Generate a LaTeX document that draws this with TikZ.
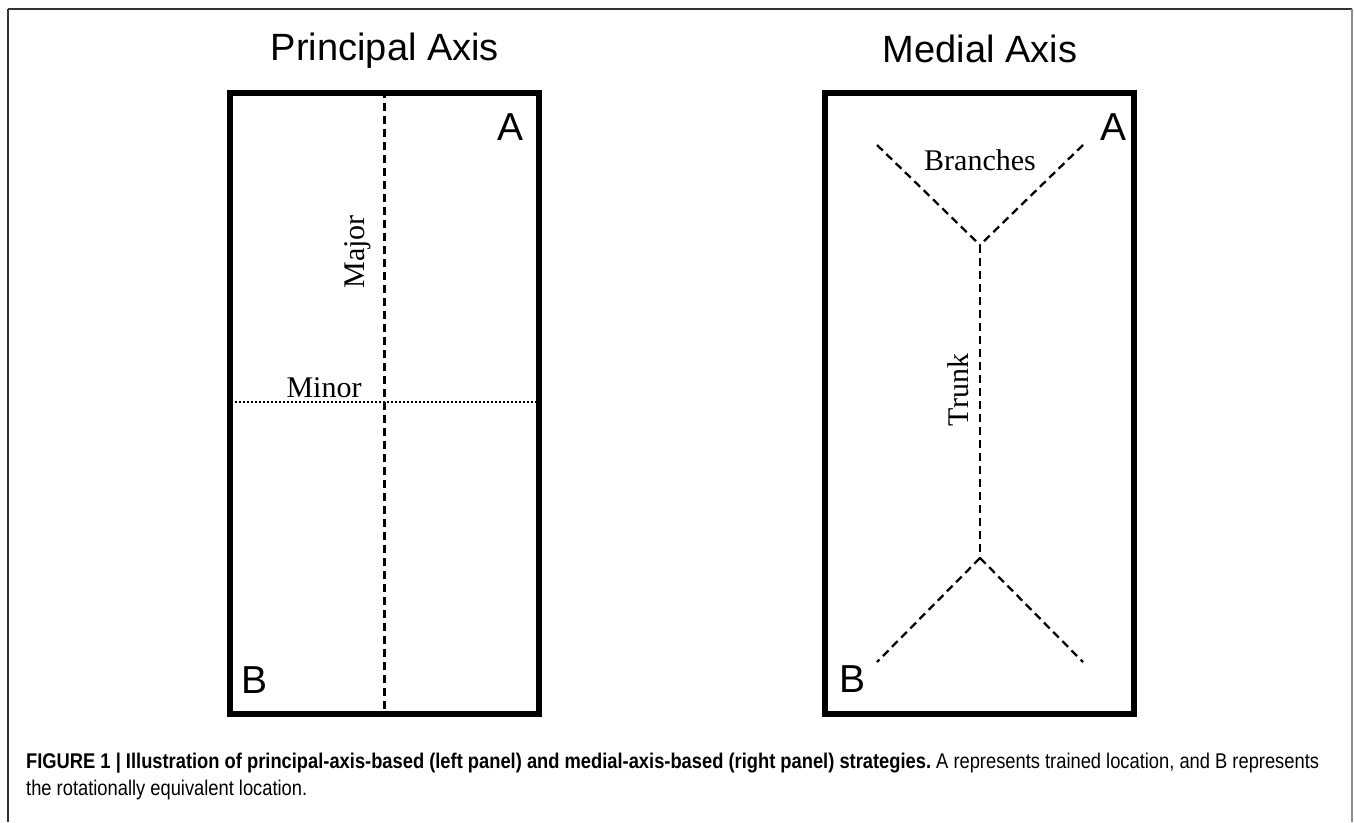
\documentclass[tikz,border=0pt]{standalone}
\usepackage{fontspec}
\setmainfont{Liberation Serif}
\newfontfamily\hv{Liberation Sans}
\newfontfamily\capfont[FakeStretch=0.86]{Liberation Sans}
\begin{document}
\begin{tikzpicture}[x=1pt,y=-1pt,
  panel/.style={draw, line width=6pt, minimum width=309pt, minimum height=621pt, inner sep=0pt},
  axdash/.style={line width=2.3pt, dash pattern=on 8pt off 5pt},
  axdot/.style={line width=2.2pt, dash pattern=on 2pt off 2pt},
  ttl/.style={font=\hv\fontsize{38}{40}\selectfont},
  corner/.style={font=\hv\fontsize{39}{41}\selectfont},
  lbl/.style={font=\fontsize{30}{32}\selectfont, inner sep=0pt},
  captext/.style={font=\capfont\fontsize{21.3}{24}\selectfont, anchor=base west, inner sep=0pt}]
\useasboundingbox (0,0) rectangle (1354,822);
\fill[white] (0,0) rectangle (1354,822);
% outer frame
\draw[line width=1.5pt, black!80] (8,822) -- (8,9);
\draw[line width=1.5pt, black!80] (8,9) -- (1352,9);
\draw[line width=1.5pt, black!45] (1352,9) -- (1352,822);
% titles
\node[ttl] (t1) at (385,51) {Principal Axis};
\node[ttl] (t2) at (980,49) {Medial Axis};
% panels
\node[panel] (L) at (384.5,403.5) {};
\node[panel] (R) at (979.5,403.5) {};
% left panel axes
\coordinate (mx) at (384.5,402);
\draw[axdash] (L.north) -- (L.south);
\draw[axdot] (mx -| L.west) -- (mx -| L.east);
\node[lbl, anchor=base] (minor) at (324,397) {Minor};
\node[lbl, rotate=90] (major) at (358,252) {Major};
\node[corner] (LA) at (510,127) {A};
\node[corner] (LB) at (255,680) {B};
% right panel medial axis
\coordinate (j1) at (980,245);
\coordinate (j2) at (980,558);
\coordinate (e1) at (877,145);
\coordinate (e2) at (1083,145);
\coordinate (e3) at (877,662);
\coordinate (e4) at (1083,662);
\draw[axdash] (e1) -- (j1);
\draw[axdash] (e2) -- (j1);
\draw[axdash] (j1) -- (j2);
\draw[axdash] (j2) -- (e3);
\draw[axdash] (j2) -- (e4);
\node[lbl] (br) at (980,160) {Branches};
\node[lbl, rotate=90] (tr) at (958,390) {Trunk};
\node[corner] (RA) at (1113,127) {A};
\node[corner] (RB) at (852,679) {B};
% caption
\node[captext] (c1) at (26,768) {\bfseries FIGURE 1 | Illustration of principal-axis-based (left panel) and medial-axis-based (right panel) strategies.\mdseries\ A represents trained location, and B represents};
\node[captext] (c2) at (26,795) {the rotationally equivalent location.};
\end{tikzpicture}
\end{document}
